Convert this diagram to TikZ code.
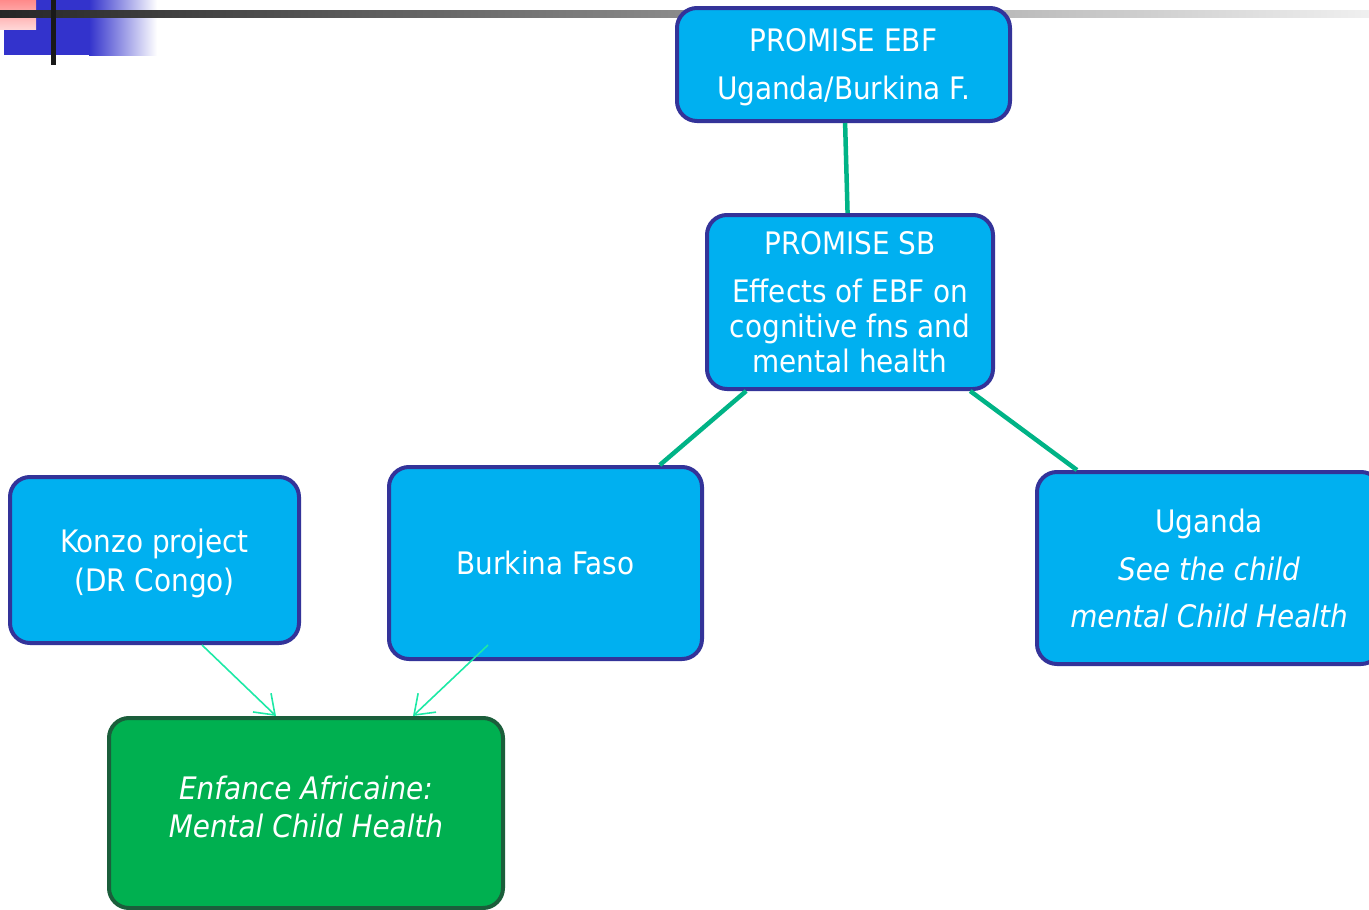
\documentclass[tikz,border=0pt]{standalone}
\usepackage{fontspec}
\setmainfont{DejaVu Sans Condensed}
\usetikzlibrary{arrows.meta,positioning}
\definecolor{boxblue}{HTML}{00B0F0}
\definecolor{boxedge}{HTML}{333399}
\definecolor{boxgreen}{HTML}{00B050}
\definecolor{greenedge}{HTML}{1B5E3B}
\definecolor{linkgreen}{HTML}{00B386}
\definecolor{arrowgreen}{HTML}{1DE9A6}
\definecolor{logoblue}{HTML}{3333CC}
\definecolor{logopink}{HTML}{FF8A8A}

\tikzset{
  projbox/.style={draw=boxedge, line width=4pt, fill=boxblue, rounded corners=20pt,
    text=white, align=center, inner sep=0pt, font=\fontsize{31}{39}\selectfont},
  goalbox/.style={projbox, draw=greenedge, fill=boxgreen},
  link/.style={linkgreen, line width=4.5pt},
  feed/.style={arrowgreen, line width=1.6pt, -{Straight Barb[length=18pt,width=26pt,line width=1.6pt]}}
}

\begin{document}
\begin{tikzpicture}[x=1pt,y=-1pt]
\useasboundingbox (0,0) rectangle (1369,910);
\clip (0,0) rectangle (1369,910);

% Corner logo
\fill[logoblue] (4,0) rectangle (90,55);
\shade[left color=logoblue, right color=white] (89,0) rectangle (157,55);
\shade[top color=logopink, bottom color=logopink!35] (0,0) rectangle (36,29);
\shade[left color=black!85, right color=black!6] (0,10) rectangle (1369,17);
\fill[black!90] (51,0) rectangle (56,65);

% Boxes
\node[projbox, minimum width=333pt, minimum height=113pt, text depth=1pt] (ebf) at (843.5,64.5)
  {PROMISE EBF\\[9pt]Uganda/Burkina F.};
\node[projbox, minimum width=286pt, minimum height=174pt] (sb) at (850,302)
  {PROMISE SB\\[9pt]Effects of EBF on\\[-4pt]cognitive fns and\\[-4pt]mental health};
\node[projbox, minimum width=289pt, minimum height=166pt, text depth=0pt] (konzo) at (154.5,560)
  {Konzo project\\(DR Congo)};
\node[projbox, minimum width=313pt, minimum height=192pt] (burkina) at (545.5,563)
  {Burkina Faso};
\node[projbox, minimum width=344pt, minimum height=192pt] (uganda) at (1209,568)
  {Uganda\\[9pt]\itshape See the child\\[8pt]\itshape mental Child Health};
\node[goalbox, minimum width=394pt, minimum height=190pt, text depth=12pt] (enfance) at (306,813)
  {\itshape Enfance Africaine:\\[-1pt]\itshape Mental Child Health};

% Links
\draw[link] (ebf) -- (sb);
\draw[link] (sb) -- (burkina);
\draw[link] (sb) -- (uganda);

% Arrows
\draw[feed] ([xshift=47.5pt]konzo.south) -- ([xshift=-30pt]enfance.north);
\draw[feed] ([xshift=-57.5pt,yshift=16pt]burkina.south) -- ([xshift=107pt]enfance.north);
\end{tikzpicture}
\end{document}
